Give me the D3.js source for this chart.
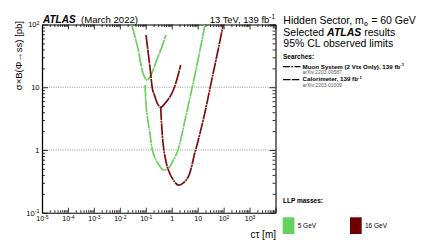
<!DOCTYPE html>
<html><head><meta charset="utf-8">
<script src="https://cdn.jsdelivr.net/npm/d3@7"></script>
<style>body{margin:0;background:#fff}svg{display:block;font-family:"Liberation Sans",Arial,Helvetica,sans-serif}</style>
</head><body><svg id="c" width="424" height="251"></svg>
<script>
// ---- data ----
const xTickValues = [1e-5, 1e-4, 1e-3, 1e-2, 1e-1, 1, 10, 100, 1000];
const xTickLabels = ["10^-5", "10^-4", "10^-3", "10^-2", "10^-1", "1", "10", "10^2", "10^3"];
const yTickValues = [0.1, 1, 10, 100];
const yTickLabels = ["10^-1", "1", "10", "10^2"];
const gridValues = [1, 10];
const massLabels = ["5 GeV", "16 GeV"];
const searchLabels = ["Muon System (2 Vtx Only), 139 fb", "Calorimeter, 139 fb"];
const searchRefs = ["arXiv:2203.00587", "arXiv:2203.01009"];

// Calorimeter, 5 GeV
const caloCtau5  = [0.0287, 0.0385, 0.0515, 0.0639, 0.0783, 0.1087, 0.146, 0.195, 0.265, 0.356, 0.603];
const caloSigma5 = [100, 63.2, 39.2, 24.0, 16.8, 13.0, 14.6, 19.0, 27.3, 37.0, 68];
// Calorimeter, 16 GeV
const caloCtau16  = [0.102, 0.146, 0.185, 0.227, 0.279, 0.377, 0.552, 0.861, 1.154, 1.56, 2.22];
const caloSigma16 = [68.0, 20.4, 9.02, 7.06, 5.53, 4.78, 5.53, 7.06, 9.02, 13.0, 22.6];
// Muon System (2 Vtx), 5 GeV
const msCtau5  = [0.0936, 0.1087, 0.146, 0.179, 0.227, 0.324, 0.474, 0.74, 1.154, 1.75, 3.26, 6.81, 11.3, 19.2];
const msSigma5 = [10.8, 4.02, 1.80, 1.0, 0.743, 0.574, 0.478, 0.509, 0.69, 1.0, 3.0, 12.1, 32.6, 100];
// Muon System (2 Vtx), 16 GeV
const msCtau16  = [0.377, 0.45, 0.552, 0.74, 1.154, 1.80, 2.73, 4.37, 7.91, 10.6, 19.2, 34.8, 55.7, 97.5];
const msSigma16 = [4.66, 1.44, 0.78, 0.478, 0.331, 0.275, 0.296, 0.374, 0.927, 1.44, 4.02, 13.0, 32.6, 100];

// ---- layout ----
const X0 = 42, X1 = 275.5, Y0 = 24.5, Y1 = 212.7;
const GREEN = "#6bcf60", RED = "#7a0f0f";
const BOX_GREEN = "#62d35b", BOX_RED = "#6e0000";
const DASH_MS = "12,0.7,2,0.7", DASH_CALO = "14,0.7";
const LEG_DASH_MS = "7,1.3,2,1.3", LEG_DASH_CALO = "7.5,1.3";

const svg = d3.select("#c");
const x = d3.scaleLog().domain([1e-5, 1e4]).range([X0, X1]);
const y = d3.scaleLog().domain([0.1, 100]).range([Y1, Y0]);

const minorX = [];
for (let e = -5; e <= 3; e++) for (let k = 2; k <= 9; k++) minorX.push(k * Math.pow(10, e));
const minorY = [];
for (let e = -1; e <= 1; e++) for (let k = 2; k <= 9; k++) minorY.push(k * Math.pow(10, e));

function setLabel(t, label) {
  const parts = label.split("^");
  t.text(parts[0]);
  if (parts[1]) t.append("tspan").attr("dy", "-0.45em").attr("font-size", "0.72em").text(parts[1]);
}

// grid lines
svg.append("g").selectAll("line").data(gridValues).join("line")
  .attr("x1", X0).attr("x2", X1).attr("y1", d => y(d)).attr("y2", d => y(d))
  .attr("stroke", "#777").attr("stroke-width", 0.8).attr("stroke-dasharray", "1,1.3");

function styleAxis(g, w) {
  g.selectAll("path.domain").attr("stroke", "#000").attr("stroke-width", w);
  g.selectAll(".tick line").attr("stroke", "#000").attr("stroke-width", 0.8);
}
const majorX = [1e-5, 1e-4, 1e-3, 1e-2, 1e-1, 1, 10, 100, 1000, 1e4];

// bottom axis
const gb = svg.append("g").attr("transform", `translate(0,${Y1})`)
  .call(d3.axisBottom(x).tickValues(majorX).tickSizeInner(-5).tickSizeOuter(0).tickPadding(3.5).tickFormat(""));
styleAxis(gb, 1.1);
gb.selectAll(".tick text").each(function(d) {
  const i = xTickValues.indexOf(d);
  const t = d3.select(this).attr("font-size", 7).attr("font-family", "Liberation Sans, Arial, sans-serif").attr("fill", "#000");
  if (i >= 0) setLabel(t, xTickLabels[i]);
});
const gbm = svg.append("g").attr("transform", `translate(0,${Y1})`)
  .call(d3.axisBottom(x).tickValues(minorX).tickSizeInner(-2.5).tickSizeOuter(0).tickFormat(""));
gbm.select("path.domain").remove(); styleAxis(gbm, 1);

// top axis
const gt = svg.append("g").attr("transform", `translate(0,${Y0})`)
  .call(d3.axisTop(x).tickValues(majorX).tickSizeInner(-5).tickSizeOuter(0).tickFormat(""));
styleAxis(gt, 1.1); gt.selectAll("text").remove();
const gtm = svg.append("g").attr("transform", `translate(0,${Y0})`)
  .call(d3.axisTop(x).tickValues(minorX).tickSizeInner(-2.5).tickSizeOuter(0).tickFormat(""));
gtm.select("path.domain").remove(); styleAxis(gtm, 1); gtm.selectAll("text").remove();

// left axis
const gl = svg.append("g").attr("transform", `translate(${X0},0)`)
  .call(d3.axisLeft(y).tickValues(yTickValues).tickSizeInner(-6).tickSizeOuter(0).tickPadding(2.5).tickFormat(""));
styleAxis(gl, 1.3);
gl.selectAll(".tick text").each(function(d) {
  const i = yTickValues.indexOf(d);
  const t = d3.select(this).attr("font-size", 7.5).attr("font-family", "Liberation Sans, Arial, sans-serif").attr("fill", "#000");
  setLabel(t, yTickLabels[i]);
});
const glm = svg.append("g").attr("transform", `translate(${X0},0)`)
  .call(d3.axisLeft(y).tickValues(minorY).tickSizeInner(-3).tickSizeOuter(0).tickFormat(""));
glm.select("path.domain").remove(); styleAxis(glm, 1); glm.selectAll("text").remove();

// right axis
const gr = svg.append("g").attr("transform", `translate(${X1},0)`)
  .call(d3.axisRight(y).tickValues(yTickValues).tickSizeInner(-6).tickSizeOuter(0).tickFormat(""));
styleAxis(gr, 1.1); gr.selectAll("text").remove();
const grm = svg.append("g").attr("transform", `translate(${X1},0)`)
  .call(d3.axisRight(y).tickValues(minorY).tickSizeInner(-3).tickSizeOuter(0).tickFormat(""));
grm.select("path.domain").remove(); styleAxis(grm, 1); grm.selectAll("text").remove();

// curves
svg.append("clipPath").attr("id", "clip").append("rect")
  .attr("x", X0).attr("y", Y0).attr("width", X1 - X0).attr("height", Y1 - Y0);
const line = d3.line().x(d => x(d[0])).y(d => y(d[1])).curve(d3.curveCatmullRom.alpha(0.5));
const curves = [
  {c: caloCtau5, s: caloSigma5, col: GREEN, dash: DASH_CALO},
  {c: msCtau5, s: msSigma5, col: GREEN, dash: DASH_MS},
  {c: caloCtau16, s: caloSigma16, col: RED, dash: DASH_CALO},
  {c: msCtau16, s: msSigma16, col: RED, dash: DASH_MS}
];
const gc = svg.append("g").attr("clip-path", "url(#clip)");
curves.forEach(cv => {
  gc.append("path").datum(cv.c.map((v, i) => [v, cv.s[i]]))
    .attr("d", line).attr("fill", "none").attr("stroke", cv.col)
    .attr("stroke-width", 1.7).attr("stroke-dasharray", cv.dash);
});

// axis titles
svg.append("text").attr("x", 276).attr("y", 237.5).attr("text-anchor", "end")
  .attr("font-size", 10).text("cτ [m]");
svg.append("text").attr("transform", "translate(22,21) rotate(-90)").attr("text-anchor", "end")
  .attr("font-size", 9.5).text("σ×B(Φ→ss) [pb]");

// header
svg.append("text").attr("x", 43).attr("y", 22.5).attr("font-size", 10)
  .attr("font-weight", "bold").attr("font-style", "italic").text("ATLAS");
svg.append("text").attr("x", 81).attr("y", 22.5).attr("font-size", 9.6).text("(March 2022)");
const lum = svg.append("text").attr("x", 275).attr("y", 22.5).attr("font-size", 9.4).attr("text-anchor", "end");
lum.append("tspan").text("13 TeV, 139 fb");
lum.append("tspan").attr("dy", -3.5).attr("font-size", 6.5).text("-1");

// right-hand info
const t1 = svg.append("text").attr("x", 283.3).attr("y", 24).attr("font-size", 10.5);
t1.append("tspan").text("Hidden Sector, m");
t1.append("tspan").attr("dy", 1.5).attr("font-size", 5.5).text("Φ");
t1.append("tspan").attr("dy", -1.5).text(" = 60 GeV");
const t2 = svg.append("text").attr("x", 283.3).attr("y", 35.8).attr("font-size", 10.5);
t2.append("tspan").text("Selected ");
t2.append("tspan").attr("font-weight", "bold").attr("font-style", "italic").text("ATLAS");
t2.append("tspan").text(" results");
svg.append("text").attr("x", 283.3).attr("y", 46.9).attr("font-size", 10.5).text("95% CL observed limits");

svg.append("text").attr("x", 283).attr("y", 59.2).attr("font-size", 6.5).attr("font-weight", "bold").text("Searches:");
const legY = [66.7, 79.6];
const legDash = [LEG_DASH_MS, LEG_DASH_CALO];
searchLabels.forEach((lab, i) => {
  svg.append("line").attr("x1", 283).attr("x2", 300.5).attr("y1", legY[i]).attr("y2", legY[i])
    .attr("stroke", "#000").attr("stroke-width", 1.2).attr("stroke-dasharray", legDash[i]);
  const t = svg.append("text").attr("x", 302.6).attr("y", legY[i] + 1.8).attr("font-size", 6.2).attr("font-weight", "bold");
  t.append("tspan").text(lab);
  t.append("tspan").attr("dy", -2.4).attr("font-size", 4.3).text("-1");
  svg.append("text").attr("x", 302.6).attr("y", legY[i] + 6.9).attr("font-size", 5).attr("fill", "#555").text(searchRefs[i]);
});

svg.append("text").attr("x", 283).attr("y", 203).attr("font-size", 6.5).attr("font-weight", "bold").text("LLP masses:");
const boxX = [282.7, 350];
const boxCol = [BOX_GREEN, BOX_RED];
massLabels.forEach((lab, i) => {
  svg.append("rect").attr("x", boxX[i]).attr("y", 217.3).attr("width", 11.7).attr("height", 16.7).attr("fill", boxCol[i]);
  svg.append("text").attr("x", boxX[i] + 15).attr("y", 228).attr("font-size", 6.5).text(lab);
});
</script></body></html>
